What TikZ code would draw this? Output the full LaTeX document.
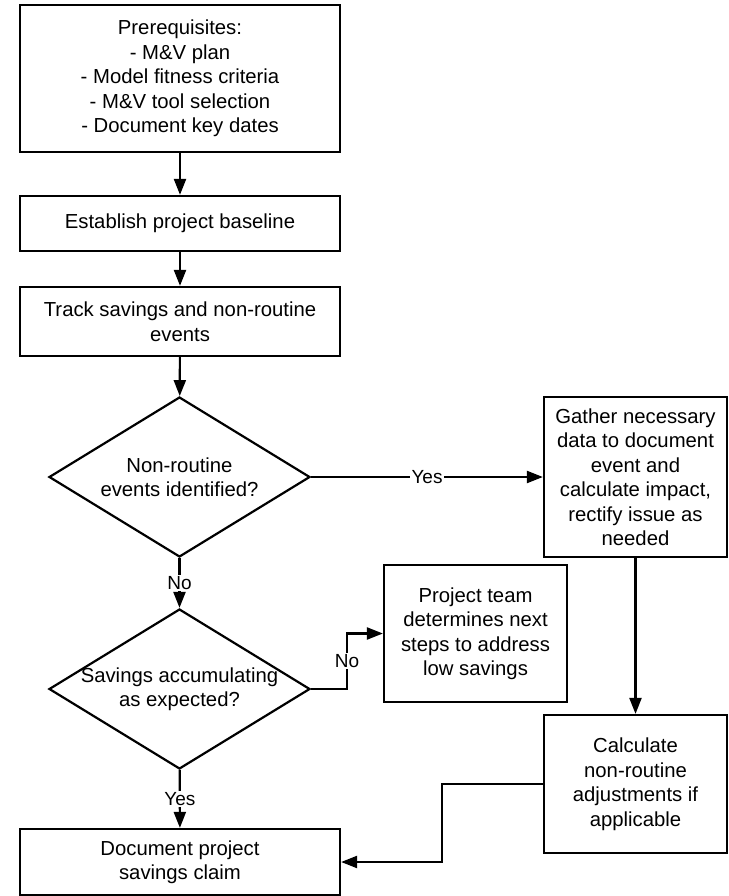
\documentclass[tikz,border=0pt]{standalone}
\usepackage{fontspec}
\setmainfont{Liberation Sans}
\usetikzlibrary{arrows.meta, positioning, calc, shapes.geometric}

\begin{document}
\begin{tikzpicture}[x=1pt, y=-1pt,
    font=\fontsize{20.3}{24.5}\selectfont,
    box/.style={draw, line width=2.2pt, rectangle, align=center, inner sep=0pt},
    decision/.style={draw, line width=2.2pt, diamond, shape aspect=1.63, align=center,
        inner sep=0pt, minimum width=261pt, minimum height=160pt},
    flow/.style={line width=2.2pt, -{Triangle[length=16pt, width=12pt]}},
    answer/.style={fill=white, inner sep=1.5pt, font=\fontsize{19}{22}\selectfont}]
    \useasboundingbox (0, 0) rectangle (728, 896);

    % main column
    \node[box, minimum width=320pt, minimum height=147pt] (prereq) at (180, 78.5)
        {Prerequisites:\\- M\&V plan\\- Model fitness criteria\\- M\&V tool selection\\- Document key dates};
    \node[box, minimum width=320pt, minimum height=55pt] (base) at (180, 223.5)
        {Establish project baseline};
    \node[box, minimum width=320pt, minimum height=69pt] (track) at (180, 321.5)
        {Track savings and non-routine\\events};
    \node[decision] (nre) at (179.5, 477)
        {Non-routine\\events identified?};
    \node[decision, inner xsep=-22pt] (sav) at (179.5, 689)
        {Savings accumulating\\as expected?};
    \node[box, minimum width=320pt, minimum height=66pt] (doc) at (180, 862)
        {Document project\\savings claim};

    % right side
    \node[box, minimum width=183pt, minimum height=160pt] (gather) at (635.5, 477)
        {Gather necessary\\data to document\\event and\\calculate impact,\\rectify issue as\\needed};
    \node[box, minimum width=183pt, minimum height=137pt] (team) at (475.5, 633.5)
        {Project team\\determines next\\steps to address\\low savings};
    \node[box, minimum width=183pt, minimum height=138pt] (adjust) at (635.5, 784)
        {Calculate\\non-routine\\adjustments if\\applicable};

    \draw[flow] (prereq) -- (base);
    \draw[flow] (base) -- (track);
    \draw[flow] (track) -- (nre);
    \draw[flow] (nre) -- node[answer] (yes1) {Yes} (gather);
    \draw[flow] (nre) -- node[answer] (no1) {No} (sav);
    \draw[flow] (sav.east) -| ($(sav.east)!0.5!(team.west)$) node[answer] (no2) {No}
        |- (team.west);
    \draw[flow] (sav) -- node[answer] (yes2) {Yes} (doc);
    \draw[flow] (gather) -- (adjust);
    \draw[flow] (adjust.west) -| ($(adjust.west)!0.5!(doc.east)$) |- (doc.east);
\end{tikzpicture}
\end{document}
